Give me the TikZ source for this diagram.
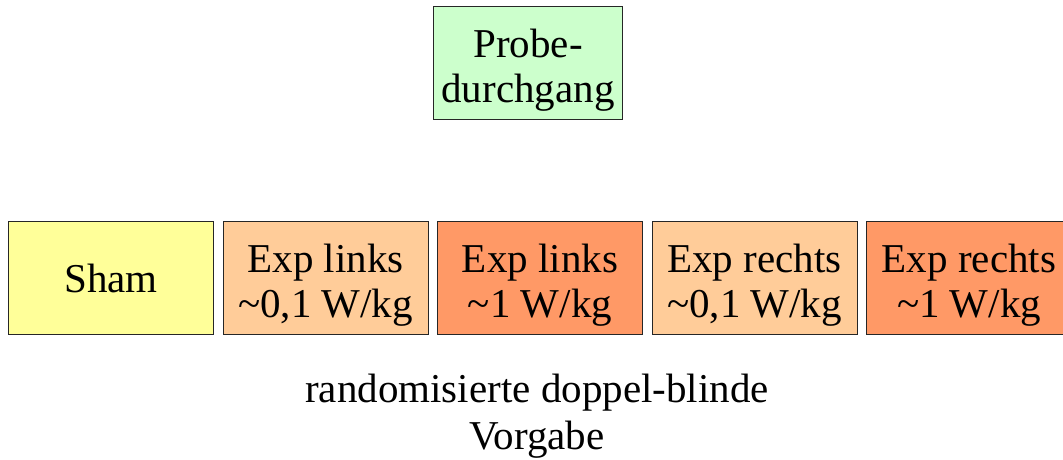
\documentclass[tikz,border=0pt]{standalone}
\usepackage{fontspec}
\setmainfont{Liberation Serif}
\definecolor{shamyellow}{HTML}{FFFF99}
\definecolor{lightorange}{HTML}{FFCC99}
\definecolor{darkorange}{HTML}{FF9966}
\definecolor{probegreen}{HTML}{CCFFCC}
\newcommand{\topstrut}[1]{\rule{0pt}{#1}}
\tikzset{
  box/.style={draw=black!85, line width=1pt, minimum width=205pt, minimum height=113pt,
    inner sep=0pt, align=center, font=\fontsize{41}{45}\selectfont, anchor=north west},
  caption/.style={align=center, font=\fontsize{41}{47}\selectfont, inner sep=0pt}
}
\begin{document}
\begin{tikzpicture}[x=1pt,y=-1pt]
\useasboundingbox (0,0) rectangle (1063,459);
\node[box, fill=probegreen, minimum width=189pt, minimum height=113pt] (probe) at (433,6) {\topstrut{43pt}Probe-\\durchgang};
\node[box, fill=shamyellow] (sham) at (8,221) {Sham};
\node[box, fill=lightorange] (l01) at (222.5,221) {\topstrut{42pt}Exp links\\\textasciitilde0,1 W/kg};
\node[box, fill=darkorange] (l1) at (437,221) {\topstrut{42pt}Exp links\\\textasciitilde1 W/kg};
\node[box, fill=lightorange] (r01) at (651.5,221) {\topstrut{42pt}Exp rechts\\\textasciitilde0,1 W/kg};
\node[box, fill=darkorange] (r1) at (866,221) {\topstrut{42pt}Exp rechts\\\textasciitilde1 W/kg};
\node[caption] (cap) at (537,416) {randomisierte doppel-blinde\\Vorgabe};
\end{tikzpicture}
\end{document}
